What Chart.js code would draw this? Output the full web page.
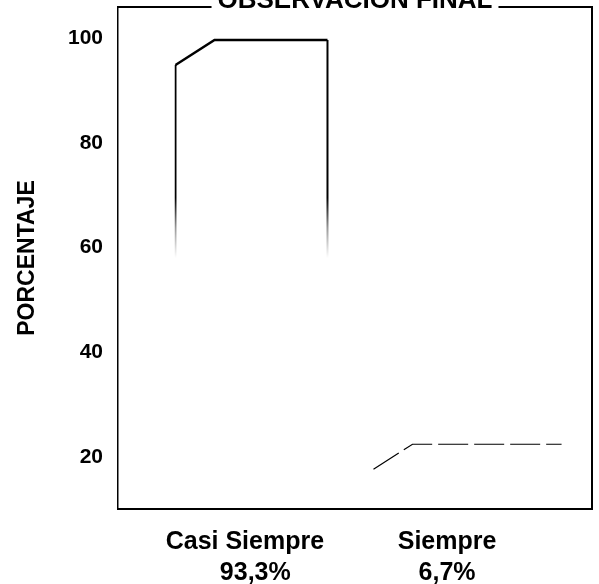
<!DOCTYPE html>
<html>
<head>
<meta charset="utf-8">
<script src="https://cdn.jsdelivr.net/npm/chart.js@4.4.1/dist/chart.umd.min.js"></script>
<style>
  html, body { margin: 0; padding: 0; background: #fff; }
  #wrap { width: 599px; height: 584px; }
</style>
</head>
<body>
<div id="wrap"><canvas id="chart" width="599" height="584"></canvas></div>
<script>
// data
const CATEGORIES = ["Casi Siempre", "Siempre"];
const PCT_LABELS = ["93,3%", "6,7%"];
const VALUES = [94.9, 17.6];
const Y_TICKS = [20, 40, 60, 80, 100];
const TITLE = "OBSERVACION FINAL";
const Y_TITLE = "PORCENTAJE";

const FONT = "'Liberation Sans', Arial, sans-serif";
// 3d look of the old SPSS bars (the scan has bars of unequal width)
const BAR_WIDTH = [0.523, 0.69];
const DEPTH_X = 40;
const DEPTH_Y = 25;
const EDGE_WIDTH = [2.5, 1.2];
const EDGE_DASH = [[], [30, 6]];
// labels in the scan are not centred on the bars
const LABEL_PAD = [["    ", "       "], ["", ""]];

// vertical edges fade out towards the bottom like the faint scan
function fadeStroke(chart) {
  const area = chart.chartArea;
  if (!area) return "#000";
  const g = chart.ctx.createLinearGradient(0, area.top, 0, area.bottom);
  g.addColorStop(0, "#000");
  g.addColorStop(0.38, "#000");
  g.addColorStop(0.44, "rgba(0,0,0,0.4)");
  g.addColorStop(0.5, "rgba(0,0,0,0)");
  g.addColorStop(1, "rgba(0,0,0,0)");
  return g;
}

const bar3d = {
  id: "bar3d",
  afterDatasetsDraw(chart) {
    const ctx = chart.ctx;
    CATEGORIES.forEach((c, i) => {
      const bar = chart.getDatasetMeta(i).data[0];
      if (!bar) return;
      const { x, y, width, base } = bar.getProps(["x", "y", "width", "base"], true);
      const left = x - width / 2;
      const right = x + width / 2;
      ctx.save();
      ctx.strokeStyle = "#000";
      ctx.lineWidth = EDGE_WIDTH[i];
      ctx.setLineDash(EDGE_DASH[i]);
      ctx.beginPath();
      ctx.moveTo(left + 1, y);
      ctx.lineTo(left + DEPTH_X, y - DEPTH_Y);
      ctx.lineTo(right + DEPTH_X, y - DEPTH_Y);
      ctx.stroke();
      ctx.setLineDash([]);
      ctx.lineWidth = 2;
      ctx.strokeStyle = fadeStroke(chart);
      ctx.beginPath();
      ctx.moveTo(right + DEPTH_X, y - DEPTH_Y);
      ctx.lineTo(right + DEPTH_X, base);
      ctx.stroke();
      ctx.restore();
    });
  },
};

const frame = {
  id: "frame",
  afterDraw(chart) {
    const { ctx, chartArea: a } = chart;
    ctx.save();
    ctx.strokeStyle = "#000";
    ctx.lineWidth = 2;
    ctx.beginPath();
    ctx.moveTo(a.left, a.top);
    ctx.lineTo(a.right, a.top);
    ctx.lineTo(a.right, a.bottom);
    ctx.stroke();
    // title sits half outside the page, over the frame
    ctx.font = "bold 26px " + FONT;
    ctx.textAlign = "center";
    ctx.textBaseline = "alphabetic";
    const cx = (a.left + a.right) / 2;
    const w = ctx.measureText(TITLE).width;
    ctx.fillStyle = "#fff";
    ctx.fillRect(cx - w / 2 - 6, 0, w + 12, 10);
    ctx.fillStyle = "#000";
    ctx.fillText(TITLE, cx, 8);
    ctx.restore();
  },
};

new Chart(document.getElementById("chart"), {
  type: "bar",
  data: {
    datasets: CATEGORIES.map((c, i) => ({
      label: c,
      data: [{ x: i + 1, y: VALUES[i] }],
      backgroundColor: "rgba(0,0,0,0)",
      borderColor: (ctx) => fadeStroke(ctx.chart),
      borderWidth: { left: 2, top: 0, right: 0, bottom: 0 },
      borderSkipped: false,
      grouped: false,
      barPercentage: BAR_WIDTH[i],
      categoryPercentage: 1,
    })),
  },
  options: {
    responsive: false,
    animation: false,
    layout: { padding: { top: 7, right: 7, left: 0, bottom: 0 } },
    plugins: {
      legend: { display: false },
      title: { display: false },
      tooltip: { enabled: false },
    },
    scales: {
      x: {
        type: "linear",
        offset: false,
        min: 0.477,
        max: 2.671,
        grid: { display: false, drawTicks: false },
        border: { display: true, color: "#000", width: 2 },
        afterBuildTicks: (s) => { s.ticks = CATEGORIES.map((c, i) => ({ value: i + 1 })); },
        afterFit: (s) => { s.height = 75; s.paddingLeft = 0; s.paddingRight = 0; },
        ticks: {
          padding: 17,
          color: "#000",
          autoSkip: false,
          maxRotation: 0,
          font: { family: FONT, size: 25, weight: "bold", lineHeight: 1.25 },
          callback: (v) => [LABEL_PAD[v - 1][0] + CATEGORIES[v - 1], LABEL_PAD[v - 1][1] + PCT_LABELS[v - 1]],
        },
      },
      y: {
        min: 10,
        max: 106,
        grid: { display: false, drawTicks: false },
        border: { display: true, color: "#000", width: 1.5, dash: [9, 3, 2, 3] },
        afterBuildTicks: (s) => { s.ticks = Y_TICKS.map((v) => ({ value: v })); },
        afterFit: (s) => { s.width = 118; s.paddingTop = 0; s.paddingBottom = 0; },
        ticks: {
          padding: 15,
          color: "#000",
          font: { family: FONT, size: 21, weight: "bold" },
        },
        title: {
          display: true,
          text: Y_TITLE,
          color: "#000",
          font: { family: FONT, size: 23, weight: "bold" },
          padding: { top: 14, bottom: 0 },
        },
      },
    },
  },
  plugins: [bar3d, frame],
});
</script>
</body>
</html>
